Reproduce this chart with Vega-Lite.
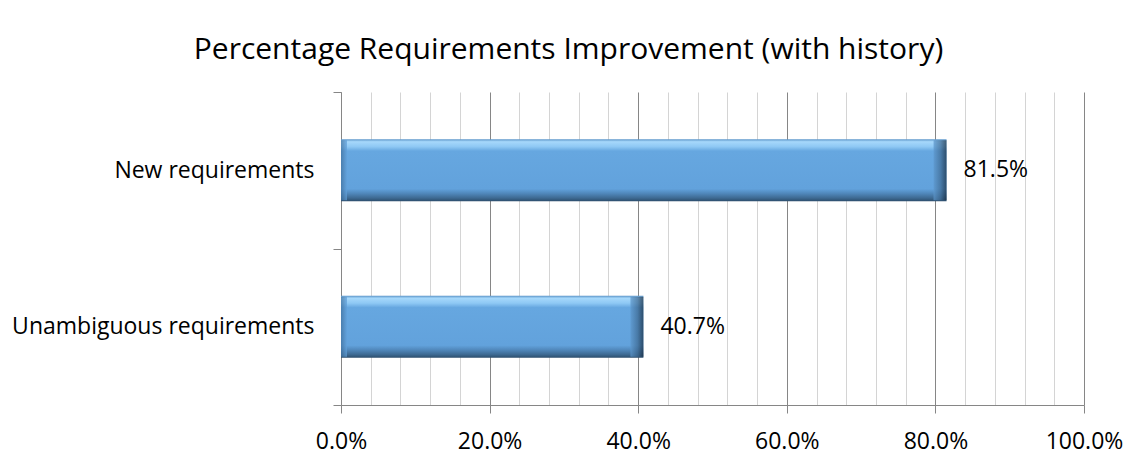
{
  "$schema": "https://vega.github.io/schema/vega-lite/v6.json",
  "autosize": {"type": "none"},
  "width": 743,
  "height": 313,
  "padding": {"left": 341, "top": 92, "right": 52, "bottom": 61},
  "background": "#ffffff",
  "config": {
    "view": {"stroke": null},
    "font": "Open Sans"
  },
  "title": {
    "text": "Percentage Requirements Improvement (with history)",
    "fontSize": 30,
    "font": "Open Sans",
    "fontWeight": "normal",
    "color": "#000000",
    "anchor": "middle",
    "frame": "group",
    "dx": -144,
    "offset": 16
  },
  "data": {
    "values": [
      {"category": "New requirements", "value": 0.815},
      {"category": "Unambiguous requirements", "value": 0.407}
    ]
  },
  "encoding": {
    "y": {
      "field": "category",
      "type": "nominal",
      "sort": null,
      "scale": {"paddingInner": 0, "paddingOuter": 0},
      "axis": {
        "title": null,
        "tickBand": "extent",
        "grid": false,
        "domainColor": "#868686",
        "tickColor": "#868686",
        "tickSize": 8,
        "labelFontSize": 23,
        "labelColor": "#000000",
        "labelPadding": 19,
        "labelLimit": 0
      }
    },
    "x": {
      "field": "value",
      "type": "quantitative",
      "scale": {"domain": [0, 1], "nice": false},
      "axis": {
        "title": null,
        "values": [0, 0.04, 0.08, 0.12, 0.16, 0.2, 0.24, 0.28, 0.32, 0.36, 0.4, 0.44, 0.48, 0.52, 0.56, 0.6, 0.64, 0.68, 0.72, 0.76, 0.8, 0.84, 0.88, 0.92, 0.96, 1],
        "format": ".1%",
        "labelExpr": "round(datum.value * 100) % 20 === 0 ? datum.label : ''",
        "grid": true,
        "gridColor": {"condition": {"test": "round(datum.value * 100) % 20 === 0", "value": "#868686"}, "value": "#d4d4d4"},
        "tickColor": {"condition": {"test": "round(datum.value * 100) % 20 === 0", "value": "#868686"}, "value": "transparent"},
        "tickSize": 8,
        "domainColor": "#868686",
        "labelFontSize": 23,
        "labelColor": "#000000",
        "labelPadding": 17,
        "labelFlush": false
      }
    }
  },
  "layer": [
    {
      "mark": {
        "type": "bar",
        "height": {"band": 0.396},
        "color": {
          "gradient": "linear",
          "x1": 0, "y1": 0, "x2": 0, "y2": 1,
          "stops": [
            {"offset": 0, "color": "#5b95c9"},
            {"offset": 0.04, "color": "#a6d8fb"},
            {"offset": 0.12, "color": "#8ec8f4"},
            {"offset": 0.19, "color": "#66a7e0"},
            {"offset": 0.8, "color": "#62a2dc"},
            {"offset": 0.87, "color": "#5189bd"},
            {"offset": 0.95, "color": "#3d6991"},
            {"offset": 1, "color": "#2c4d6c"}
          ]
        }
      }
    },
    {
      "mark": {
        "type": "tick",
        "orient": "vertical",
        "size": 60,
        "thickness": 13,
        "xOffset": -6.5,
        "color": {
          "gradient": "linear",
          "x1": 0, "y1": 0, "x2": 1, "y2": 0,
          "stops": [
            {"offset": 0, "color": "#5d97cc"},
            {"offset": 0.55, "color": "#3d6890"},
            {"offset": 1, "color": "#14273a"}
          ]
        }
      }
    },
    {
      "mark": {
        "type": "tick",
        "orient": "vertical",
        "size": 60,
        "thickness": 6,
        "xOffset": 3,
        "color": {
          "gradient": "linear",
          "x1": 0, "y1": 0, "x2": 1, "y2": 0,
          "stops": [
            {"offset": 0, "color": "#3f6e9a"},
            {"offset": 1, "color": "#62a2dc"}
          ]
        }
      },
      "encoding": {"x": {"datum": 0}}
    },
    {
      "mark": {
        "type": "text",
        "align": "left",
        "baseline": "middle",
        "dx": 17,
        "fontSize": 23,
        "color": "#000000"
      },
      "encoding": {
        "text": {"field": "value", "type": "quantitative", "format": ".1%"}
      }
    }
  ]
}
